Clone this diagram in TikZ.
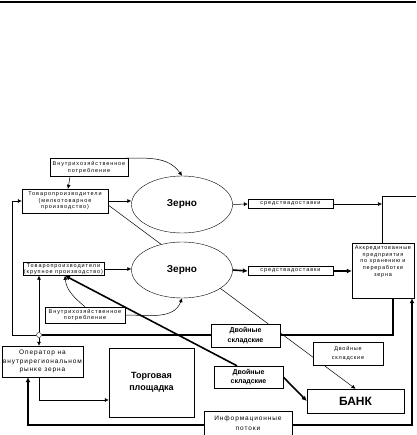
\documentclass[tikz,border=0pt]{standalone}
\usepackage{fontspec}
\setmainfont{Liberation Sans}
\newfontfamily\dotfont[LetterSpace=17]{Liberation Sans}
\newfontfamily\opfont[LetterSpace=14]{Liberation Sans}
\usetikzlibrary{arrows.meta, shapes.geometric}
\pgfdeclarelayer{back}
\pgfsetlayers{back,main}

\begin{document}
\begin{tikzpicture}[x=1pt, y=1pt,
    box/.style={rectangle, draw=black, fill=white, align=center, inner sep=0.5pt, font=\dotfont\fontsize{5.5}{6.5}\selectfont},
    boldbox/.style={rectangle, draw=black, fill=white, align=center, inner sep=1pt, font=\bfseries\fontsize{7}{9.5}\selectfont},
    grain/.style={ellipse, draw=black, fill=white, minimum width=101pt, inner sep=0pt, font=\bfseries\fontsize{10}{12}\selectfont},
    flow/.style={-{Latex[length=4pt,width=4pt]}, line width=0.5pt},
    mainflow/.style={-{Latex[length=5pt,width=5pt]}, line width=1.6pt},
    plainline/.style={line width=0.5pt},
    busline/.style={line width=1.6pt}
]
\useasboundingbox (0,0) rectangle (416,-435);
\draw[line width=1.2pt] (0,-2) -- (416,-2);

\node[box, minimum width=78pt, minimum height=18pt] (homeTop) at (89,-167.5) {Внутрихозяйственное\\потребление};
\node[box, minimum width=86pt, minimum height=24pt] (smallProd) at (65,-201) {Товаропроизводители\\(мелкотоварное\\производство)};
\node[box, minimum width=81pt, minimum height=13pt] (largeProd) at (63.5,-269) {Товаропроизводители\\(крупное производство)};
\node[grain, minimum height=57pt] (grainTop) at (182,-204.5) {Зерно};
\node[grain, minimum height=56pt] (grainLow) at (182,-270) {Зерно};
\node[box, minimum width=85pt, minimum height=9pt] (deliveryTop) at (290.5,-204) {средствадоставки};
\node[box, minimum width=85pt, minimum height=9pt] (deliveryLow) at (290.5,-271) {средствадоставки};
\node[box, font=\opfont\fontsize{5.5}{6.8}\selectfont, minimum width=62pt, minimum height=55pt] (storage) at (383,-270.5)
    {\parbox[c][50pt][t]{60pt}{\centering Аккредитованные\\предприятия\\по хранению и\\переработке\\зерна}};
\node[box, minimum width=80pt, minimum height=16pt] (homeLow) at (85,-315) {Внутрихозяйственное\\потребление};
\node[box, font=\opfont\fontsize{6.5}{8.5}\selectfont, minimum width=81pt, minimum height=31pt] (operator) at (42.5,-361.5) {Оператор на\\внутрирегиональном\\рынке зерна};
\node[boldbox, font=\bfseries\fontsize{9}{12}\selectfont, minimum width=85pt, minimum height=69pt] (market) at (151.5,-382.5) {Торговая\\площадка};
\node[boldbox, minimum width=69pt, minimum height=23pt] (depotA) at (245.5,-335.5) {Двойные\\складские};
\node[boldbox, minimum width=69pt, minimum height=22pt] (depotB) at (248.5,-377) {Двойные\\складские};
\node[box, font=\opfont\fontsize{5.5}{9.5}\selectfont, minimum width=70pt, minimum height=23pt] (depotC) at (348,-353.5) {Двойные\\складские};
\node[boldbox, font=\bfseries\fontsize{12}{14}\selectfont, minimum width=97pt, minimum height=24pt] (bank) at (355.5,-401) {БАНК};
\node[box, draw=none, font=\opfont\fontsize{6.5}{10}\selectfont, minimum width=88pt, minimum height=24pt] (info) at (248,-423) {Информационные\\потоки};
\draw (info.south west) |- (info.north east) -- (info.south east);
\node[circle, draw=black, fill=white, inner sep=0pt, minimum size=5pt] (junction) at (39,-335) {};
\coordinate (storeCorner) at (382,-196);
\coordinate (leftTurn) at (12,-335);
\coordinate (bottomTurn) at (28,-425);

\begin{pgfonlayer}{back}
\draw[flow] ([xshift=-19pt]homeTop.south) -- ([xshift=3pt]smallProd.north);
\draw[flow] ([xshift=-8pt]homeTop.north east) to[out=0,in=125] (grainTop.north);
\draw[flow] (smallProd.east) -- (smallProd.east -| grainTop.west);
\draw[flow] (largeProd.east) -- (largeProd.east -| grainLow.west);
\draw[flow] (grainTop.east) -- (deliveryTop.west);
\draw[flow] (deliveryTop.east) -- (deliveryTop.east -| storeCorner);
\draw[plainline] ([xshift=34pt]storeCorner) -- (storeCorner) -- (storeCorner |- storage.north);
\draw[mainflow] (grainLow.east) -- (deliveryLow.west);
\draw[mainflow] (deliveryLow.east) -- (deliveryLow.east -| storage.west);
\draw[flow] ([yshift=-4pt]smallProd.east) -- (bank.north);
\draw[busline] ([xshift=10pt]storage.south) |- (junction);
\draw[flow] (junction) -- (leftTurn) |- (smallProd.west);
\draw[flow] (junction) -- (junction |- largeProd.south);
\draw[flow] (junction) -- (junction |- operator.north);
\draw[flow] (junction |- operator.south) |- ([yshift=-17.5pt]market.west);
\draw[mainflow, {Latex[length=5pt,width=5pt]}-{Latex[length=5pt,width=5pt]}] ([xshift=-14.5pt]operator.south) -- (bottomTurn) -| ([xshift=29pt]storage.south);
\draw[mainflow] ([xshift=-11.5pt]depotB.north) -- ([xshift=1.5pt]largeProd.south);
\draw[mainflow] (depotB.east) -- (bank.west);
\draw[flow] (homeLow.north) to[out=140,in=-85] ([xshift=1.5pt]largeProd.south);
\draw[flow] (homeLow.east) to[out=0,in=-110] (grainLow.south);
\end{pgfonlayer}
\end{tikzpicture}
\end{document}
